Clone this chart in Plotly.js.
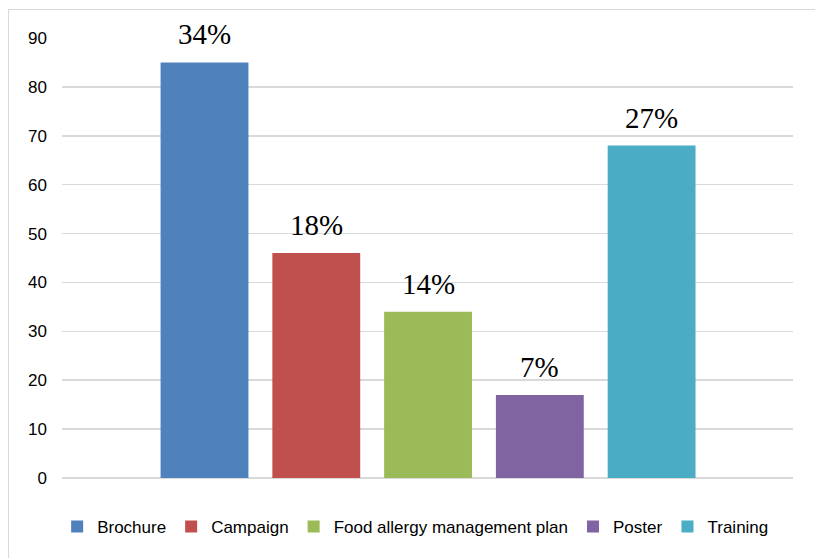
<!DOCTYPE html>
<html>
<head>
<meta charset="utf-8">
<script src="https://cdn.plot.ly/plotly-3.0.1.min.js"></script>
<style>
  html, body { margin: 0; padding: 0; background: #fff; overflow: hidden; }
  #frame { position: absolute; left: 8px; top: 9px; width: 900px; height: 700px; border: 1.5px solid #d9d9d9; box-sizing: border-box; }
  #chart { position: absolute; left: 0; top: 0; width: 815px; height: 558px; }
</style>
</head>
<body>
<div id="frame"></div>
<div id="chart"></div>
<script>
const categories = ["Brochure", "Campaign", "Food allergy management plan", "Poster", "Training"];
const values = [85, 46, 34, 17, 68];
const percentLabels = ["34%", "18%", "14%", "7%", "27%"];
const colors = ["#4F81BD", "#C0504D", "#9BBB59", "#8064A2", "#4BACC6"];
const yTicks = [0, 10, 20, 30, 40, 50, 60, 70, 80, 90];

const traces = categories.map((name, i) => ({
  type: "bar",
  name: name,
  x: [i],
  y: [values[i]],
  marker: { color: colors[i] },
  hoverinfo: "name+y"
}));

const annotations = categories.map((name, i) => ({
  x: i,
  y: values[i],
  xref: "x",
  yref: "y",
  text: percentLabels[i],
  showarrow: false,
  yanchor: "bottom",
  yshift: 10,
  font: { family: "Liberation Serif, Times New Roman, serif", size: 29, color: "#000" }
}));

const layout = {
  width: 815,
  height: 558,
  paper_bgcolor: "rgba(0,0,0,0)",
  plot_bgcolor: "rgba(0,0,0,0)",
  margin: { l: 62, r: 22, t: 38, b: 80 },
  barmode: "overlay",
  bargap: 0.214,
  showlegend: true,
  legend: {
    orientation: "h",
    xref: "container",
    yref: "container",
    x: 0.51,
    xanchor: "center",
    y: 1 - 527 / 558,
    yanchor: "middle",
    font: { family: "Liberation Sans, Arial, sans-serif", size: 17, color: "#000" },
    itemwidth: 30,
    traceorder: "normal"
  },
  xaxis: {
    range: [-1.275, 5.265],
    showticklabels: false,
    showgrid: false,
    zeroline: false,
    ticks: "",
    fixedrange: true
  },
  yaxis: {
    range: [0, 90],
    tickvals: yTicks,
    ticktext: yTicks.map(String),
    showgrid: true,
    gridcolor: "#d9d9d9",
    gridwidth: 1.5,
    zeroline: true,
    zerolinecolor: "#d9d9d9",
    zerolinewidth: 1.5,
    showline: false,
    ticks: "",
    ticklabelstandoff: 14,
    tickfont: { family: "Liberation Sans, Arial, sans-serif", size: 17, color: "#000" },
    fixedrange: true
  },
  annotations: annotations
};

Plotly.newPlot("chart", traces, layout, { displayModeBar: false, staticPlot: true });
</script>
</body>
</html>
